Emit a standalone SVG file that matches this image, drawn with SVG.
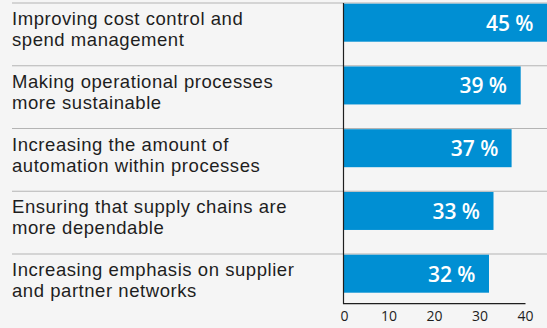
<svg xmlns="http://www.w3.org/2000/svg" width="547" height="328" viewBox="0 0 547 328">
<style>
.lbl{font-family:"Liberation Sans",Arial,sans-serif;font-size:18.5px;letter-spacing:0.55px;fill:#1e1e1e}
.pct{font-family:"Open Sans","Noto Sans","Liberation Sans",sans-serif;font-size:21px;font-weight:600;fill:#ffffff;text-anchor:end}
.tick{font-family:"Open Sans","Noto Sans","Liberation Sans",sans-serif;font-size:14px;fill:#1e1e1e;text-anchor:middle}
.sep{stroke:#b4b4b4;stroke-width:1.2}
.bar{fill:#008fd3}
.axis{stroke:#1e1e1e;stroke-width:1.2;fill:none}
</style>
<rect x="0" y="0" width="547" height="328" fill="#f5f5f5"/>
<g id="separators">
<line class="sep" x1="12" y1="3" x2="547" y2="3"/>
<line class="sep" x1="12" y1="65.75" x2="547" y2="65.75"/>
<line class="sep" x1="12" y1="128.5" x2="547" y2="128.5"/>
<line class="sep" x1="12" y1="191.25" x2="547" y2="191.25"/>
<line class="sep" x1="12" y1="254" x2="547" y2="254"/>
</g>
<g id="row1">
<rect class="bar" x="343.5" y="3.7" width="204" height="38"/>
<text class="lbl" x="12" y="25">Improving cost control and</text>
<text class="lbl" x="12" y="46">spend management</text>
<text class="pct" x="533.5" y="30.5">45 %</text>
</g>
<g id="row2">
<rect class="bar" x="343.5" y="66.45" width="177.2" height="38"/>
<text class="lbl" x="12" y="87.75">Making operational processes</text>
<text class="lbl" x="12" y="108.75">more sustainable</text>
<text class="pct" x="507" y="93.25">39 %</text>
</g>
<g id="row3">
<rect class="bar" x="343.5" y="129.2" width="168.1" height="38"/>
<text class="lbl" x="12" y="150.5">Increasing the amount of</text>
<text class="lbl" x="12" y="171.5">automation within processes</text>
<text class="pct" x="498.3" y="156">37 %</text>
</g>
<g id="row4">
<rect class="bar" x="343.5" y="191.95" width="150" height="38"/>
<text class="lbl" x="12" y="213.25">Ensuring that supply chains are</text>
<text class="lbl" x="12" y="234.25">more dependable</text>
<text class="pct" x="480" y="218.75">33 %</text>
</g>
<g id="row5">
<rect class="bar" x="343.5" y="254.7" width="145.5" height="38"/>
<text class="lbl" x="12" y="276">Increasing emphasis on supplier</text>
<text class="lbl" x="12" y="297">and partner networks</text>
<text class="pct" x="475.5" y="281.5">32 %</text>
</g>
<g id="axis">
<path class="axis" d="M343.5 3 V303.7 H525.5"/>
<text class="tick" x="344.5" y="321">0</text>
<text class="tick" x="389" y="321">10</text>
<text class="tick" x="434.5" y="321">20</text>
<text class="tick" x="480" y="321">30</text>
<text class="tick" x="525.5" y="321">40</text>
</g>
</svg>
